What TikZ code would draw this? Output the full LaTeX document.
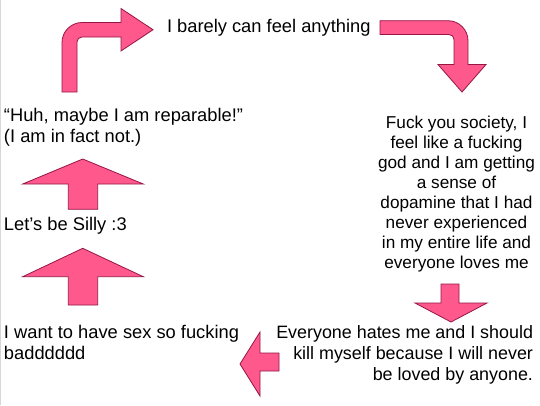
\documentclass[tikz,border=0pt]{standalone}
\usepackage{fontspec}
\setmainfont{Liberation Sans}
\definecolor{pinkfill}{RGB}{255,88,140}
\definecolor{pinkline}{RGB}{150,22,70}
\definecolor{edgegray}{RGB}{215,215,215}
\tikzset{
  blockarrow/.style={fill=pinkfill, draw=pinkline, line width=0.8pt, line join=miter},
  lbl/.style={inner sep=0pt, outer sep=0pt, font=\fontsize{18.3}{21}\selectfont},
  lblr/.style={inner sep=0pt, outer sep=0pt, font=\fontsize{17.2}{20.1}\selectfont},
  lblb/.style={inner sep=0pt, outer sep=0pt, font=\fontsize{17.9}{20.6}\selectfont}
}
\begin{document}
\begin{tikzpicture}[x=1pt,y=-1pt]
\useasboundingbox (0,0) rectangle (540,405);
\fill[white] (0,0) rectangle (540,405);
\draw[edgegray, line width=1pt] (0.5,0) -- (0.5,405);

% texts
\node[lbl, anchor=base west] (top) at (167,32.7) {I barely can feel anything};
\node[lblr, anchor=north, align=center] (fuck) at (456.5,115.6)
  {Fuck you society, I\\feel like a fucking\\god and I am getting\\a sense of\\dopamine that I had\\never experienced\\in my entire life and\\everyone loves me};
\node[lblb, anchor=north east, align=right] (hates) at (533,326)
  {Everyone hates me and I should\\kill myself because I will never\\be loved by anyone.};
\node[lbl, anchor=north west, align=left] (sex) at (4,325.5)
  {I want to have sex so fucking\\badddddd};
\node[lbl, anchor=base west] (silly) at (4,230.7) {Let’s be Silly :3};
\node[lbl, anchor=north west, align=left] (huh) at (4,108)
  {“Huh, maybe I am reparable!”\\(I am in fact not.)};

% top-left bent arrow (up then right)
\draw[blockarrow] (62,92) -- (62,42.5)
  .. controls (62,31.5) and (71,22.5) .. (82,22.5)
  -- (121,22.5) -- (121,8.5) -- (153,29.7) -- (121,51) -- (121,37)
  -- (82,37) .. controls (79.2,37) and (77,39.2) .. (77,42)
  -- (77,92) -- cycle;

% top-right bent arrow (right then down)
\draw[blockarrow] (380,20.7) -- (448,20.7)
  .. controls (459,20.7) and (468,29.7) .. (468,40.7)
  -- (468,64.5) -- (486,64.5) -- (462,92) -- (438,64.5) -- (454,64.5)
  -- (454,39.5) .. controls (454,36.7) and (451.8,34.5) .. (449,34.5)
  -- (380,34.5) -- cycle;

% down arrow (right column)
\draw[blockarrow] (441,284) -- (459,284) -- (459,303) -- (487,303)
  -- (451,322) -- (415,303) -- (441,303) -- cycle;

% left arrow (bottom)
\draw[blockarrow] (279,353) -- (279,371) -- (260,371) -- (260,396)
  -- (240,364) -- (260,332) -- (260,353) -- cycle;

% up arrow (lower)
\draw[blockarrow] (68.3,305) -- (97.7,305) -- (97.7,276.7) -- (143.3,276.7)
  -- (82.7,248.3) -- (22.7,276.7) -- (68.3,276.7) -- cycle;

% up arrow (upper)
\draw[blockarrow] (68.3,209.3) -- (97.7,209.3) -- (97.7,184) -- (143.3,184)
  -- (82.7,159) -- (22.7,184) -- (68.3,184) -- cycle;
\end{tikzpicture}
\end{document}
